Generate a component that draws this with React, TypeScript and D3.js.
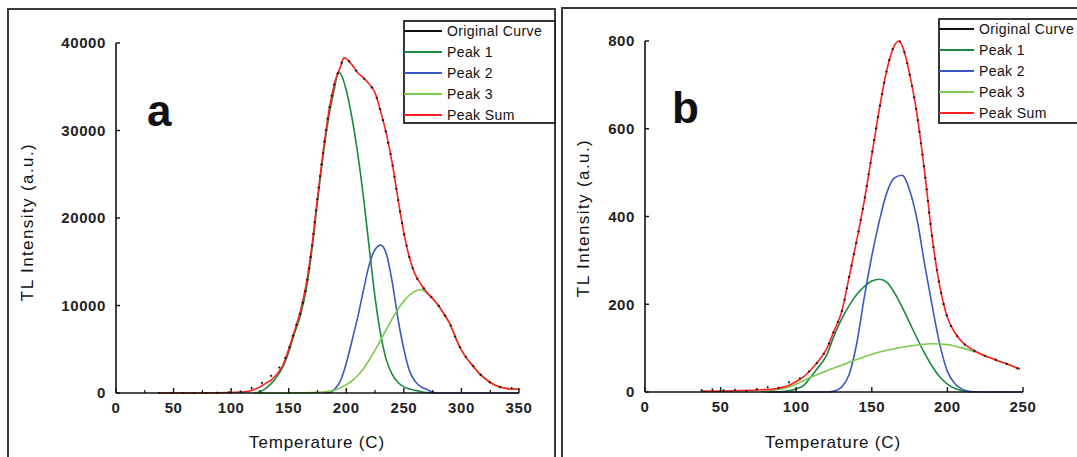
import React from "react";
import * as d3 from "d3";

type Pt = [number, number];

const legendLabels = ["Original Curve", "Peak 1", "Peak 2", "Peak 3", "Peak Sum"];
const lineColors = ["#111111", "#1b8a3e", "#3d58c2", "#7ccb4e", "#ff1f1f"];

// ---- panel a ----
const xTicksA = [0, 50, 100, 150, 200, 250, 300, 350];
const xMinorA = [25, 75, 125, 175, 225, 275, 325];
const yTicksA = [0, 10000, 20000, 30000, 40000];

const originalA: Pt[] = [
  [37, 0], [50, 0], [75, 0], [100, 80], [115, 400], [120, 700], [125, 1000], [130, 1500],
  [135, 2000], [140, 2700], [145, 3400], [150, 5000], [155, 7100], [160, 9100], [165, 12000],
  [170, 16500], [175, 22300], [180, 27700], [185, 32300], [190, 35500], [195, 37300],
  [198, 38300], [200, 38200], [205, 37500], [210, 36600], [215, 36000], [220, 35300],
  [225, 34300], [230, 32100], [235, 29500], [240, 26200], [245, 22100], [250, 18300],
  [255, 15400], [260, 13500], [265, 12400], [270, 11500], [275, 10800], [280, 10000],
  [285, 9000], [290, 7900], [295, 6300], [300, 4900], [305, 3900], [310, 3100], [315, 2300],
  [320, 1700], [325, 1200], [330, 850], [335, 620], [340, 560], [345, 560], [350, 560],
];
const peak1A: Pt[] = [
  [120, 0], [125, 150], [130, 500], [135, 1100], [140, 1900], [145, 3000], [150, 4700],
  [155, 6800], [160, 8800], [165, 11700], [170, 16200], [175, 21900], [180, 27300],
  [185, 31700], [190, 35000], [193, 36700], [195, 36500], [200, 34600], [205, 31400],
  [210, 27300], [215, 22300], [220, 16500], [225, 10900], [230, 6600], [235, 3700],
  [240, 2100], [245, 1200], [250, 700], [255, 450], [260, 300], [265, 150], [270, 50], [275, 0],
];
const peak2A: Pt[] = [
  [180, 0], [185, 60], [188, 200], [190, 450], [195, 1400], [200, 3400], [205, 6000],
  [210, 8700], [215, 11800], [220, 14700], [225, 16400], [230, 16900], [235, 15800],
  [240, 12600], [245, 8400], [250, 5000], [255, 2500], [260, 1300], [265, 700], [270, 400],
  [275, 100], [280, 0], [300, 0], [325, 0], [350, 0],
];
const peak3A: Pt[] = [
  [120, 0], [150, 0], [180, 100], [185, 200], [190, 350], [195, 600], [200, 950], [205, 1400],
  [210, 2000], [215, 2800], [220, 3800], [225, 4900], [230, 6100], [235, 7300], [240, 8500],
  [245, 9600], [250, 10500], [255, 11200], [260, 11650], [265, 11800], [270, 11400],
  [275, 10800], [280, 10000], [285, 9000], [290, 7900], [295, 6300], [300, 4900], [305, 3900],
  [310, 3100], [315, 2300], [320, 1700], [325, 1200], [330, 850], [335, 620], [340, 500],
  [345, 450], [350, 420],
];
const peakSumA: Pt[] = [
  [37, 0], [50, 0], [75, 0], [100, 50], [115, 200], [120, 400], [125, 700], [130, 1100],
  [135, 1500], [140, 2200], [145, 3200], [150, 5000], [155, 7100], [160, 9300], [165, 12300],
  [170, 16700], [175, 22300], [180, 27700], [185, 32300], [190, 35500], [195, 37300],
  [198, 38300], [200, 38200], [205, 37500], [210, 36600], [215, 36000], [220, 35300],
  [225, 34300], [230, 32100], [235, 29500], [240, 26200], [245, 22100], [250, 18300],
  [255, 15400], [260, 13500], [265, 12400], [270, 11500], [275, 10800], [280, 10000],
  [285, 9000], [290, 7900], [295, 6300], [300, 4900], [305, 3900], [310, 3100], [315, 2300],
  [320, 1700], [325, 1200], [330, 850], [335, 620], [340, 500], [345, 450], [350, 420],
];

// ---- panel b ----
const xTicksB = [0, 50, 100, 150, 200, 250];
const yTicksB = [0, 200, 400, 600, 800];

const originalB: Pt[] = [
  [37, 3], [40, 6], [42, 2], [45, 6], [48, 3], [50, 5], [55, 2], [58, 5], [62, 5], [65, 2],
  [70, 3], [73, 9], [75, 4], [78, 7], [82, 11], [85, 7], [90, 12], [95, 22], [100, 27],
  [105, 36], [110, 52], [115, 72], [120, 97], [125, 139], [130, 182], [135, 262], [140, 345],
  [145, 435], [150, 540], [155, 645], [160, 735], [165, 790], [168, 800], [170, 790],
  [175, 725], [180, 630], [185, 500], [190, 350], [195, 240], [200, 170], [205, 135],
  [210, 113], [215, 100], [220, 90], [225, 82], [230, 76], [235, 69], [240, 63], [245, 56], [248, 52],
];
const peak1B: Pt[] = [
  [80, 0], [85, 0], [95, 3], [100, 7], [105, 15], [110, 36], [115, 58], [120, 83], [125, 128],
  [130, 166], [135, 197], [140, 222], [145, 240], [150, 253], [155, 257], [160, 250],
  [165, 226], [170, 194], [175, 158], [180, 122], [185, 88], [190, 58], [195, 34], [200, 18],
  [205, 8], [210, 3], [216, 0],
];
const peak2B: Pt[] = [
  [80, 0], [120, 0], [125, 2], [130, 11], [135, 40], [140, 110], [145, 215], [150, 310],
  [155, 390], [160, 455], [165, 488], [170, 494], [175, 460], [180, 392], [185, 290],
  [190, 195], [195, 108], [200, 47], [205, 19], [210, 6], [215, 1], [220, 0], [250, 0],
];
const peak3B: Pt[] = [
  [77, 0], [85, 4], [93, 9], [100, 18], [110, 34], [120, 48], [130, 61], [140, 74], [150, 86],
  [160, 95], [170, 102], [180, 107], [190, 110], [200, 108], [210, 100], [220, 90], [230, 76],
  [240, 63], [248, 52],
];
const peakSumB: Pt[] = [
  [37, 2], [50, 2], [60, 3], [70, 4], [77, 5], [85, 7], [90, 10], [95, 15], [100, 24],
  [105, 35], [110, 52], [115, 72], [120, 97], [125, 139], [130, 182], [135, 262], [140, 345],
  [145, 435], [150, 540], [155, 645], [160, 735], [165, 790], [168, 800], [170, 790],
  [175, 725], [180, 630], [185, 500], [190, 350], [195, 240], [200, 170], [205, 135],
  [210, 113], [215, 100], [220, 90], [225, 82], [230, 76], [235, 69], [240, 63], [245, 56], [248, 52],
];

const font = "'Liberation Sans', Arial, sans-serif";

interface PanelCfg {
  box: [number, number, number, number];
  left: number; right: number; top: number; bottom: number;
  xDomain: [number, number]; yDomain: [number, number];
  xTicks: number[]; xMinor: number[]; yTicks: number[];
  series: Pt[][]; // original, p1, p2, p3, sum
  letter: string; letterX: number; letterY: number;
  legendX: number; legendY: number; legendW: number; legendLine: number; legendRow0: number;
  xTitleX: number; yTitleX: number; yTitleY: number;
}

const panels: PanelCfg[] = [
  {
    box: [8, 9, 547, 470],
    left: 116, right: 519, top: 43, bottom: 393,
    xDomain: [0, 350], yDomain: [0, 40000],
    xTicks: xTicksA, xMinor: xMinorA, yTicks: yTicksA,
    series: [originalA, peak1A, peak2A, peak3A, peakSumA],
    letter: "a", letterX: 147, letterY: 126,
    legendX: 404, legendY: 21, legendW: 151, legendLine: 38, legendRow0: 31,
    xTitleX: 317, yTitleX: 33, yTitleY: 222,
  },
  {
    box: [562, 8, 530, 470],
    left: 645, right: 1023, top: 41, bottom: 392,
    xDomain: [0, 250], yDomain: [0, 800],
    xTicks: xTicksB, xMinor: [], yTicks: yTicksB,
    series: [originalB, peak1B, peak2B, peak3B, peakSumB],
    letter: "b", letterX: 672, letterY: 123,
    legendX: 939, legendY: 19, legendW: 160, legendLine: 35, legendRow0: 29,
    xTitleX: 833, yTitleX: 589, yTitleY: 218,
  },
];

function Panel({ cfg }: { cfg: PanelCfg }) {
  const x = d3.scaleLinear().domain(cfg.xDomain).range([cfg.left, cfg.right]);
  const y = d3.scaleLinear().domain(cfg.yDomain).range([cfg.bottom, cfg.top]);
  const line = d3.line<Pt>().x((d) => x(d[0])).y((d) => y(d[1])).curve(d3.curveMonotoneX);
  const [bx, by, bw, bh] = cfg.box;
  const drawOrder = [1, 2, 3, 4];

  return (
    <g>
      <rect x={bx} y={by} width={bw} height={bh} fill="none" stroke="#3a3a3a" strokeWidth={2} />

      {/* curves: fitted peaks, then the sum, then the measured curve as specks on top */}
      {drawOrder.map((i) => (
        <path key={i} d={line(cfg.series[i]) || ""} fill="none" stroke={lineColors[i]} strokeWidth={1.6} />
      ))}
      <path d={line(cfg.series[0]) || ""} fill="none" stroke={lineColors[0]} strokeWidth={2.2} strokeDasharray="1.6 10" />

      {/* axes */}
      <line x1={cfg.left} x2={cfg.left} y1={cfg.top} y2={cfg.bottom} stroke="#111" strokeWidth={1.6} />
      <line x1={cfg.left} x2={cfg.right} y1={cfg.bottom} y2={cfg.bottom} stroke="#111" strokeWidth={1.6} />
      {cfg.yTicks.map((t) => (
        <g key={"y" + t}>
          <line x1={cfg.left} x2={cfg.left + 4} y1={y(t)} y2={y(t)} stroke="#111" strokeWidth={1.4} />
          <text x={cfg.left - 10} y={y(t)} dy="0.36em" textAnchor="end" fontSize={15} fontWeight="bold"
            letterSpacing={0.6} fill="#222">{t}</text>
        </g>
      ))}
      {cfg.xTicks.map((t) => (
        <g key={"x" + t}>
          <line x1={x(t)} x2={x(t)} y1={cfg.bottom} y2={cfg.bottom - 5} stroke="#111" strokeWidth={1.4} />
          <text x={x(t)} y={cfg.bottom + 20} textAnchor="middle" fontSize={15} fontWeight="bold"
            letterSpacing={0.6} fill="#222">{t}</text>
        </g>
      ))}
      {cfg.xMinor.map((t) => (
        <line key={"m" + t} x1={x(t)} x2={x(t)} y1={cfg.bottom} y2={cfg.bottom - 3} stroke="#111" strokeWidth={1.2} />
      ))}

      {/* titles */}
      <text x={cfg.xTitleX} y={448} textAnchor="middle" fontSize={17} letterSpacing={0.8} fill="#111">
        Temperature (C)
      </text>
      <text transform={`translate(${cfg.yTitleX},${cfg.yTitleY}) rotate(-90)`} textAnchor="middle"
        fontSize={17} letterSpacing={1.4} fill="#111">
        TL Intensity (a.u.)
      </text>
      <text x={cfg.letterX} y={cfg.letterY} fontSize={44} fontWeight="bold" fill="#111">{cfg.letter}</text>

      {/* legend */}
      <rect x={cfg.legendX} y={cfg.legendY} width={cfg.legendW} height={123 - cfg.legendY}
        fill="#fff" stroke="#222" strokeWidth={1.8} />
      {legendLabels.map((lab, i) => {
        const ly = cfg.legendRow0 + i * 21;
        return (
          <g key={lab}>
            <line x1={cfg.legendX} x2={cfg.legendX + cfg.legendLine} y1={ly} y2={ly} stroke={lineColors[i]} strokeWidth={2} />
            <text x={cfg.legendX + cfg.legendLine + 5} y={ly} dy="0.36em" fontSize={14} letterSpacing={0.4} fill="#111">
              {lab}
            </text>
          </g>
        );
      })}
    </g>
  );
}

export default function App() {
  return (
    <svg width={1077} height={457} style={{ position: "absolute", left: 0, top: 0, background: "#fff", fontFamily: font }}>
      <rect x={0} y={0} width={1077} height={457} fill="#fff" />
      {panels.map((p) => (
        <Panel key={p.letter} cfg={p} />
      ))}
    </svg>
  );
}
